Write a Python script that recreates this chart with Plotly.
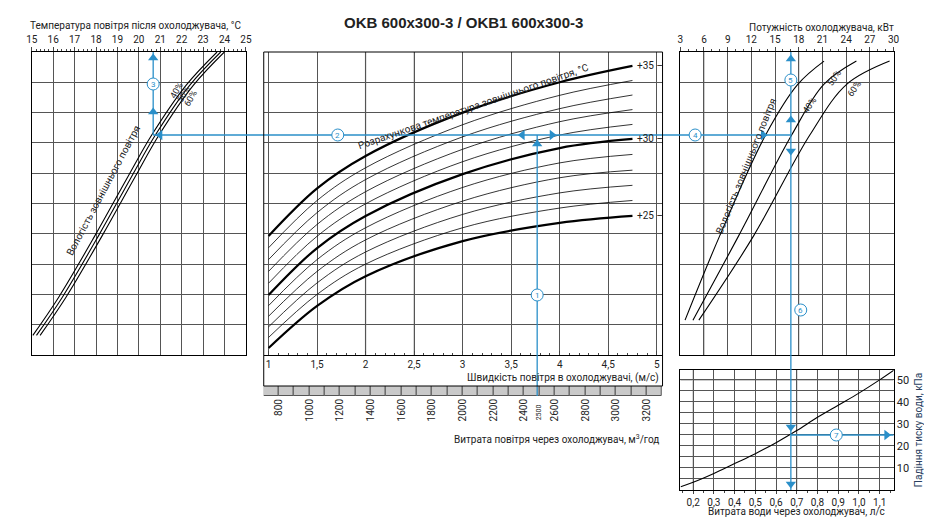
import plotly.graph_objects as go

W, H = 932, 519
BLUE = "#2a8fc9"
GRID = "#555555"
FONT = "Liberation Sans Narrow, Roboto, sans-serif"

# ---------- data ----------
left_temp_ticks = list(range(15, 26))
hum40_left_x = [15.05, 16.25, 17.95, 19.5, 20.6, 22.2, 23.65]
hum_left_y = [0.65, 1.9, 3.94, 5.9, 7.26, 8.9, 10.0]
hum50_left_x = [15.22, 16.42, 18.12, 19.67, 20.77, 22.37, 23.82]
hum60_left_x = [15.39, 16.59, 18.29, 19.84, 20.94, 22.54, 23.99]

vel_x = [1, 1.5, 2, 3, 4, 4.75]
temp_curves = {
    25: [0.23, 1.62, 2.6, 3.76, 4.36, 4.59],
    26: [0.58, 2.0, 3.0, 4.2, 4.85, 5.1],
    27: [0.93, 2.38, 3.4, 4.64, 5.35, 5.6],
    28: [1.28, 2.76, 3.8, 5.08, 5.85, 6.1],
    29: [1.63, 3.15, 4.2, 5.53, 6.34, 6.62],
    30: [1.98, 3.53, 4.59, 5.97, 6.83, 7.13],
    31: [2.37, 3.92, 4.99, 6.38, 7.26, 7.61],
    32: [2.76, 4.31, 5.39, 6.79, 7.7, 8.1],
    33: [3.15, 4.7, 5.79, 7.2, 8.13, 8.58],
    34: [3.54, 5.1, 6.18, 7.6, 8.57, 9.06],
    35: [3.93, 5.5, 6.57, 8.0, 9.0, 9.54],
}
vel_ticks = [1, 1.5, 2, 2.5, 3, 3.5, 4, 4.5, 5]
vel_ticktext = ["1", "1,5", "2", "2,5", "3", "3,5", "4", "4,5", "5"]
flow_ticks = list(range(800, 3201, 200))
flow_cells = list(range(750, 3300, 100))

power_ticks = list(range(3, 31, 3))
hum_right_y = [1.15, 3.94, 7.26, 8.94, 9.7]
hum40_right_x = [3.6, 8.0, 13.8, 17.9, 21.2]
hum50_right_x = [4.6, 10.4, 17.1, 21.2, 25.3]
hum60_right_x = [5.35, 12.3, 19.4, 24.1, 29.5]

water_x = [0.14, 0.2, 0.3, 0.4, 0.5, 0.6, 0.7, 0.8, 0.9, 1.0, 1.1, 1.17]
water_dp = [1.5, 3.5, 7.5, 12, 16.5, 21.5, 27, 33, 38.5, 44, 50, 54.5]
water_ticks = [0.2, 0.3, 0.4, 0.5, 0.6, 0.7, 0.8, 0.9, 1.0, 1.1]
water_ticktext = ["0,2", "0,3", "0,4", "0,5", "0,6", "0,7", "0,8", "0,9", "1,0", "1,1"]
dp_ticks = [5, 10, 15, 20, 25, 30, 35, 40, 45, 50]
dp_ticktext = ["", "10", "", "20", "", "30", "", "40", "", "50"]

# ---------- helpers ----------
def px(x):
    return x / W

def py(y):
    return 1 - y / H

fig = go.Figure()

def line(xs, ys, xa, ya, width=1, color="black", shape="spline"):
    fig.add_trace(go.Scatter(x=xs, y=ys, xaxis=xa, yaxis=ya, mode="lines",
                             line=dict(color=color, width=width, shape=shape),
                             hoverinfo="skip", showlegend=False))

for xs in (hum40_left_x, hum50_left_x, hum60_left_x):
    line(xs, hum_left_y, "x", "y", 1.1)
for t, ys in temp_curves.items():
    line(vel_x, ys, "x2", "y2", 2.2 if t in (25, 30, 35) else 0.8)
fig.add_trace(go.Bar(x=flow_cells, y=[1] * len(flow_cells), width=100, xaxis="x3", yaxis="y3",
                     marker=dict(color="#c9c9c9", line=dict(color="#555", width=1)),
                     hoverinfo="skip", showlegend=False))
for xs in (hum40_right_x, hum50_right_x, hum60_right_x):
    line(xs, hum_right_y, "x4", "y4", 1.1)
line(water_x, water_dp, "x5", "y5", 1.1)

# ---------- blue path on pixel overlay ----------
segs = [
    ([530, 530], [388, 127]),
    ([141, 787], [127, 127]),
    ([141, 141], [127, 44]),
    ([787, 787], [44, 482]),
    ([787, 891], [427, 427]),
]
for xs, ys in segs:
    line(xs, ys, "x6", "y6", 1.3, BLUE, "linear")
heads = [
    (530, 136, "triangle-up"), (515, 127, "triangle-left"), (545, 127, "triangle-right"),
    (148, 127, "triangle-left"), (141, 104, "triangle-up"), (141, 50, "triangle-up"),
    (759, 127, "triangle-right"), (787, 112, "triangle-up"), (787, 51, "triangle-up"),
    (787, 143, "triangle-down"), (787, 419, "triangle-down"), (787, 476, "triangle-down"),
    (884, 427, "triangle-right"),
]
fig.add_trace(go.Scatter(x=[h[0] for h in heads], y=[h[1] for h in heads], xaxis="x6", yaxis="y6",
                         mode="markers", marker=dict(symbol=[h[2] for h in heads], size=9, color=BLUE),
                         hoverinfo="skip", showlegend=False))
circles = [(530, 287, "1"), (328, 127, "2"), (141, 76, "3"), (690, 127, "4"),
           (787, 72, "5"), (797, 302, "6"), (833, 427, "7")]
fig.add_trace(go.Scatter(x=[c[0] for c in circles], y=[c[1] for c in circles], xaxis="x6", yaxis="y6",
                         mode="markers", marker=dict(symbol="circle", size=12, color="white",
                                                     line=dict(color=BLUE, width=1)),
                         hoverinfo="skip", showlegend=False))

frame = dict(showline=True, linecolor="black", linewidth=1, mirror=True, zeroline=False,
             gridcolor=GRID, gridwidth=0.7, tickfont=dict(size=10, family=FONT, color="#222"))
ydom = [py(347), py(44)]

fig.update_layout(
    width=W, height=H, margin=dict(l=0, r=0, t=0, b=0), plot_bgcolor="rgba(0,0,0,0)", paper_bgcolor="white",
    bargap=0,
    xaxis=dict(frame, domain=[px(18), px(235)], range=[15, 25], side="top", anchor="y",
               tickvals=left_temp_ticks, ticks="outside", ticklen=4,
               minor=dict(dtick=0.2, ticks="outside", ticklen=2, showgrid=False)),
    yaxis=dict(frame, domain=ydom, range=[0, 10], dtick=1, showticklabels=False, anchor="x"),
    xaxis2=dict(frame, domain=[px(253), px(657)], range=[0.95, 5.06], anchor="y2", mirror=False,
                tickvals=vel_ticks, ticktext=vel_ticktext, ticks="inside", ticklen=4,
                minor=dict(dtick=0.1, ticks="inside", ticklen=2, showgrid=False)),
    yaxis2=dict(frame, domain=ydom, range=[0, 10], dtick=1, showticklabels=False, anchor="x2", showline=False),
    xaxis3=dict(domain=[px(253), px(657)], range=[703, 3303], anchor="y3", tickvals=flow_ticks,
                tickangle=-90, showgrid=False, zeroline=False, showline=False,
                tickfont=dict(size=10, family=FONT, color="#222")),
    yaxis3=dict(domain=[py(388), py(378)], range=[0, 1], visible=False, anchor="x3"),
    xaxis4=dict(frame, domain=[px(675), px(891)], range=[3, 30], side="top", anchor="y4",
                tickvals=power_ticks, ticks="outside", ticklen=4,
                minor=dict(dtick=1, ticks="outside", ticklen=2, showgrid=False)),
    yaxis4=dict(frame, domain=ydom, range=[0, 10], dtick=1, showticklabels=False, anchor="x4"),
    xaxis5=dict(frame, domain=[px(675), px(891)], range=[0.138, 1.167], anchor="y5",
                tickvals=water_ticks, ticktext=water_ticktext, ticks="outside", ticklen=3,
                minor=dict(dtick=0.05, ticks="outside", ticklen=2, showgrid=False)),
    yaxis5=dict(frame, domain=[py(482), py(362)], range=[0, 54.5], side="right", anchor="x5",
                tickvals=dp_ticks, ticktext=dp_ticktext, tickfont=dict(size=11, family=FONT, color="#222"),
                title=dict(text="Падіння тиску води, кПа", font=dict(size=10, family=FONT), standoff=6)),
    xaxis6=dict(domain=[0, 1], range=[0, W], visible=False, anchor="y6", fixedrange=True),
    yaxis6=dict(domain=[0, 1], range=[H, 0], visible=False, anchor="x6", fixedrange=True),
)

fig.add_shape(type="rect", xref="paper", yref="paper", x0=px(253), x1=px(657), y0=py(378), y1=py(44),
              line=dict(color="black", width=1))
for v in (2.0, 2.5):
    fig.add_shape(type="line", xref="x2", yref="y2", x0=v, x1=v, y0=0, y1=10,
                  line=dict(color="#bbbbbb", width=1.5), layer="below")
fig.add_shape(type="line", xref="x5", yref="y5", x0=0.138, x1=1.167, y0=50, y1=50,
              line=dict(color="#bbbbbb", width=1.5), layer="below")
for v in (0.2, 0.7):
    fig.add_shape(type="line", xref="x5", yref="y5", x0=v, x1=v, y0=0, y1=54.5,
                  line=dict(color="#bbbbbb", width=1.5), layer="below")
for v in (6, 18):
    fig.add_shape(type="line", xref="x4", yref="y4", x0=v, x1=v, y0=0, y1=10,
                  line=dict(color="#bbbbbb", width=1.5), layer="below")

def ann(text, x, y, size=10, xanchor="center", angle=0, bold=False, xref="paper", yref="paper", color="#222"):
    fig.add_annotation(text=f"<b>{text}</b>" if bold else text, x=x, y=y, xref=xref, yref=yref,
                       showarrow=False, xanchor=xanchor, yanchor="middle", textangle=angle,
                       font=dict(size=size, family=FONT if not bold else "Liberation Sans, Arial", color=color))

for cx, cy, ct in circles:
    ann(ct, cx, cy, 8, xref="x6", yref="y6", color=BLUE)

ann("OKB 600x300-3 / OKB1 600x300-3", px(455), py(14), 15, bold=True)
ann("Температура повітря після охолоджувача, °C", px(14), py(18), 10, "left")
ann("Потужність охолоджувача, кВт", px(893), py(19), 10, "right")
ann("Швидкість повітря в охолоджувачі, (м/с)", px(655), py(370), 10, "right")
ann("Витрата повітря через охолоджувач, м<sup>3</sup>/год", px(655), py(431), 10, "right")
ann("Витрата води через охолоджувач, л/с", px(793), py(503), 10)
ann("2500", 2500, py(404), 7, angle=-90, xref="x3", yref="paper")
ann("Розрахункова температура зовнішнього повітря, °C", px(465), py(99), 10, angle=-19)
for t, yy in ((35, 9.54), (30, 7.13), (25, 4.59)):
    ann(f"+{t} –", 4.78, yy, 10, "left", xref="x2", yref="y2")
ann("Вологість зовнішнього повітря", px(90), py(182), 10, angle=-62)
ann("Вологість зовнішнього повітря", px(741), py(158), 10, angle=-68)
ann("40%", px(165), py(82), 9, angle=-60)
ann("50%", px(172), py(86), 9, angle=-60)
ann("60%", px(179), py(90), 9, angle=-60)
ann("40%", px(806), py(97), 9, angle=-55)
ann("50%", px(831), py(70), 9, angle=-55)
ann("60%", px(851), py(81), 9, angle=-55)

fig.write_html("out.html")
